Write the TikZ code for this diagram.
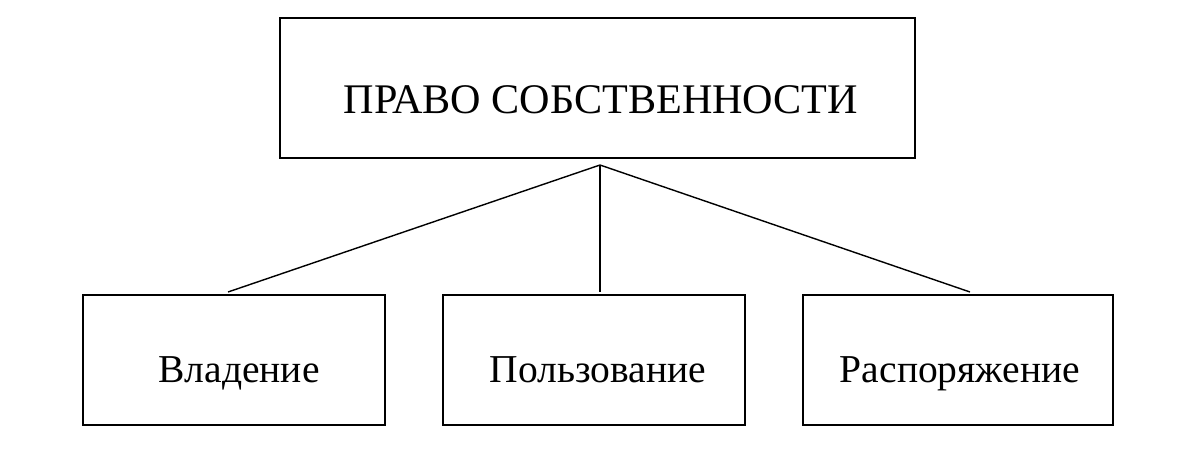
\documentclass[tikz,border=0pt]{standalone}
\usepackage{fontspec}
\setmainfont{Liberation Serif}
\usetikzlibrary{positioning}

\begin{document}
\begin{tikzpicture}[x=0.02cm,y=0.02cm, thick,
        box/.style={draw, inner sep=0pt, font=\fontsize{22.5}{26}\selectfont},
        lbl/.style={anchor=base, font=\fontsize{22.5}{26}\selectfont}]
        \useasboundingbox (0,0) rectangle (1200,451);
        \node [box, minimum width=635*0.02cm, minimum height=140*0.02cm] (pravo) at (597.5,363) {};
        \node [box, minimum width=302*0.02cm, minimum height=130*0.02cm] (vlad) at (234,91) {};
        \node [box, minimum width=302*0.02cm, minimum height=130*0.02cm] (polz) at (594,91) {};
        \node [box, minimum width=310*0.02cm, minimum height=130*0.02cm] (rasp) at (958,91) {};
        \node [lbl, font=\fontsize{24}{28}\selectfont] (pravot) at (601,338) {ПРАВО СОБСТВЕННОСТИ};
        \node [lbl] (vladt) at (239,69) {Владение};
        \node [lbl] (polzt) at (598,69) {Пользование};
        \node [lbl] (raspt) at (960,69) {Распоряжение};
        \coordinate (top) at (600,286);
        \coordinate (vend) at (228,159);

        \draw (top)--(vend);
        \draw (top)--(600,159);
        \draw (top)--(970,159);
    \end{tikzpicture}
\end{document}
